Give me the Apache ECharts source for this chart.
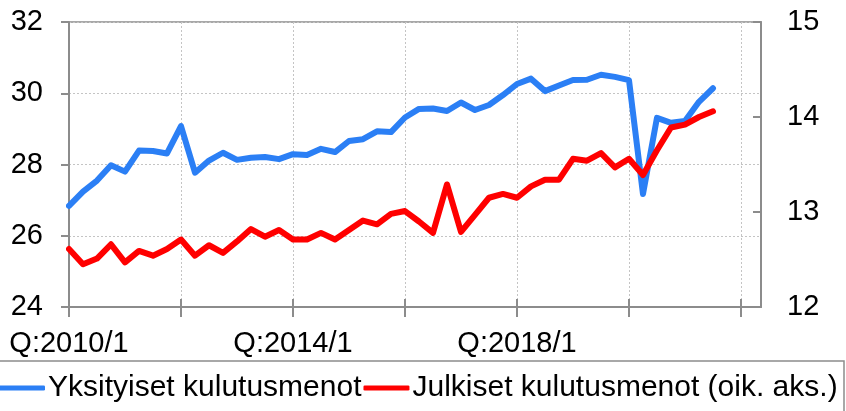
<!DOCTYPE html>
<html>
<head>
<meta charset="utf-8">
<script src="https://cdn.jsdelivr.net/npm/echarts@6/dist/echarts.min.js"></script>
<style>
  html, body { margin: 0; padding: 0; background: #fff; }
  #chart { width: 846px; height: 411px; }
</style>
</head>
<body>
<div id="chart"></div>
<script>
// Quarters 2010/1 .. 2022/4
const quarters = [];
for (let y = 2010; y <= 2022; y++) {
  for (let q = 1; q <= 4; q++) quarters.push('Q:' + y + '/' + q);
}

// Private consumption expenditure (left axis)
const yksityiset = [
  26.84, 27.24, 27.55, 27.98, 27.80, 28.39, 28.38, 28.31, 29.08, 27.77,
  28.11, 28.33, 28.13, 28.19, 28.21, 28.15, 28.29, 28.27, 28.44, 28.35,
  28.66, 28.71, 28.93, 28.91, 29.32, 29.56, 29.57, 29.50, 29.74, 29.53,
  29.67, 29.95, 30.26, 30.41, 30.06, 30.22, 30.37, 30.38, 30.52, 30.46,
  30.37, 27.17, 29.31, 29.17, 29.22, 29.76, 30.14
];

// Public consumption expenditure (right axis)
const julkiset = [
  12.61, 12.45, 12.51, 12.66, 12.47, 12.59, 12.54, 12.61, 12.71, 12.54,
  12.65, 12.57, 12.69, 12.82, 12.74, 12.81, 12.71, 12.71, 12.78, 12.71,
  12.81, 12.91, 12.87, 12.98, 13.01, 12.90, 12.78, 13.29, 12.79, 12.97,
  13.15, 13.19, 13.15, 13.27, 13.34, 13.34, 13.56, 13.54, 13.62, 13.47,
  13.56, 13.39, 13.65, 13.89, 13.92, 14.00, 14.06
];

const leftTicks = [24, 26, 28, 30, 32];
const rightTicks = [12, 13, 14, 15];
const seriesNames = ['Yksityiset kulutusmenot', 'Julkiset kulutusmenot (oik. aks.)'];

const FONT = 'Liberation Sans, Arial, sans-serif';
const AXIS_GRAY = '#8c8c8c';
const GRID_GRAY = '#c4c4c4';
const X_MAX = 49.43;
const xTickValues = [0, 8, 16, 24, 32, 40, 48];
const xLabelValues = [0, 16, 32];

const chart = echarts.init(document.getElementById('chart'), null, { renderer: 'canvas' });

const axisFont = { fontFamily: FONT, fontSize: 29, color: '#000' };

chart.setOption({
  animation: false,
  grid: { left: 69, right: 85, top: 22, bottom: 104, show: true, borderColor: AXIS_GRAY, borderWidth: 1.5 },
  graphic: [{
    type: 'rect',
    shape: { x: -5, y: 361, width: 849, height: 80 },
    style: { fill: 'none', stroke: AXIS_GRAY, lineWidth: 1.5 },
    z: 0
  }],
  legend: {
    left: -1, top: 373, width: 1000, padding: 0,
    itemWidth: 46, itemHeight: 5, itemGap: 2,
    icon: 'roundRect',
    textStyle: { fontFamily: FONT, fontSize: 30, color: '#000', padding: [0, 0, 0, -2] },
    data: seriesNames
  },
  xAxis: [{
    type: 'value', min: 0, max: X_MAX,
    axisLine: { show: true, onZero: false, lineStyle: { color: AXIS_GRAY, width: 2 } },
    axisTick: { show: true, length: 10, customValues: xTickValues, lineStyle: { color: AXIS_GRAY, width: 2 } },
    axisLabel: {
      ...axisFont, margin: 22, customValues: xLabelValues,
      formatter: v => quarters[Math.round(v)] || ''
    },
    splitLine: { show: true, lineStyle: { color: GRID_GRAY, type: [2, 2], width: 1 } },
    interval: 8
  }, {
    type: 'value', min: 0, max: X_MAX, position: 'bottom',
    axisLine: { show: false, onZero: false },
    axisTick: { show: true, inside: true, length: 8, customValues: xTickValues, lineStyle: { color: AXIS_GRAY, width: 2 } },
    axisLabel: { show: false },
    splitLine: { show: false }
  }],
  yAxis: [{
    type: 'value', min: leftTicks[0], max: leftTicks[leftTicks.length - 1], interval: 2,
    position: 'left',
    axisLine: { show: true, onZero: false, lineStyle: { color: AXIS_GRAY, width: 2 } },
    axisTick: { show: true, inside: false, length: 8, lineStyle: { color: AXIS_GRAY, width: 2 } },
    axisLabel: { ...axisFont, margin: 26 },
    splitLine: { show: true, lineStyle: { color: GRID_GRAY, type: [2, 2], width: 1 } }
  }, {
    type: 'value', min: rightTicks[0], max: rightTicks[rightTicks.length - 1], interval: 1,
    position: 'right',
    axisLine: { show: true, onZero: false, lineStyle: { color: AXIS_GRAY, width: 2 } },
    axisTick: { show: true, inside: true, length: 8, lineStyle: { color: AXIS_GRAY, width: 2 } },
    axisLabel: { ...axisFont, margin: 26 },
    splitLine: { show: false }
  }],
  series: [{
    name: seriesNames[0], type: 'line', yAxisIndex: 0, xAxisIndex: 0,
    data: yksityiset.map((v, i) => [i, v]),
    showSymbol: false, symbol: 'none',
    itemStyle: { color: '#2b7ff5' },
    lineStyle: { color: '#2b7ff5', width: 6, cap: 'round', join: 'round' },
    z: 3
  }, {
    name: seriesNames[1], type: 'line', yAxisIndex: 1, xAxisIndex: 0,
    data: julkiset.map((v, i) => [i, v]),
    showSymbol: false, symbol: 'none',
    itemStyle: { color: '#ff0000' },
    lineStyle: { color: '#ff0000', width: 6, cap: 'round', join: 'round' },
    z: 4
  }]
});
</script>
</body>
</html>
